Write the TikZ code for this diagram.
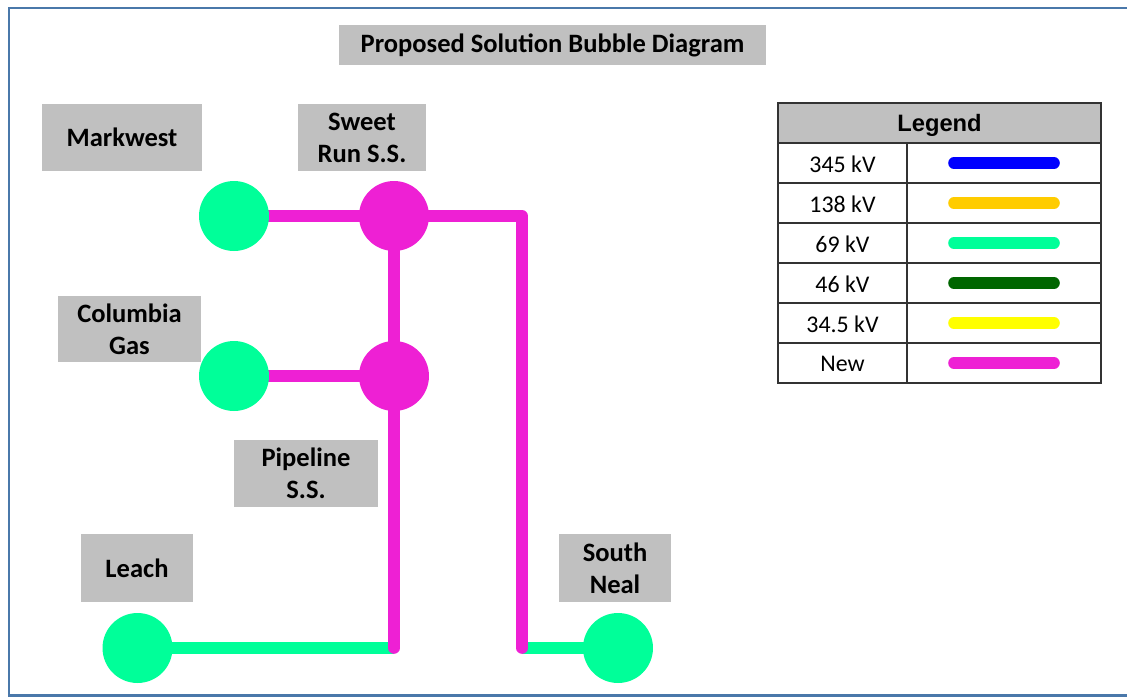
\documentclass[tikz,border=0pt]{standalone}
\usepackage{fontspec}
\setmainfont{Carlito}
\newfontfamily\arialfont{Liberation Sans}
\usepackage{tikz}
\definecolor{newC}{RGB}{238,32,212}
\definecolor{kvA}{RGB}{0,0,255}
\definecolor{kvB}{RGB}{255,204,0}
\definecolor{kvC}{RGB}{0,255,153}
\definecolor{kvD}{RGB}{0,102,0}
\definecolor{kvE}{RGB}{255,255,0}
\definecolor{frameC}{RGB}{74,120,170}
\definecolor{boxC}{RGB}{192,192,192}
\tikzset{
  lbl/.style    ={fill=boxC, inner sep=0pt, align=center, font=\fontsize{15.1}{18.3}\selectfont\bfseries},
  bus/.style    ={circle, fill=#1, minimum size=1.4cm, inner sep=0pt},
  lineS/.style  ={draw=#1, line width=6.6pt},
  keyS/.style   ={draw=#1, line width=6.6pt, line cap=round},
  cell/.style   ={draw=black!80, line width=0.7pt},
}
\begin{document}
\begin{tikzpicture}[x=0.02cm, y=-0.02cm]
  \useasboundingbox (0,0) rectangle (1127,698);
  \draw[frameC, line width=1.6pt] (1140,8) -- (9,8) -- (9,695.5) -- (1140,695.5);
  \node[lbl, minimum width=8.54cm, minimum height=0.8cm] (title) at (552.5,45) {Proposed Solution Bubble Diagram};
  \node[lbl, minimum width=3.2cm, minimum height=1.34cm] (markwestL) at (122,137.5) {Markwest};
  \node[lbl, minimum width=2.56cm, minimum height=1.34cm] (sweetrunL) at (362,137.5) {Sweet\\Run S.S.};
  \node[lbl, minimum width=2.86cm, minimum height=1.32cm] (columbiaL) at (129.5,329) {Columbia\\Gas};
  \node[lbl, minimum width=2.88cm, minimum height=1.34cm] (pipelineL) at (306,473.5) {Pipeline\\S.S.};
  \node[lbl, minimum width=2.24cm, minimum height=1.36cm] (leachL) at (137,568) {Leach};
  \node[lbl, minimum width=2.24cm, minimum height=1.36cm] (southnealL) at (615,568) {South\\Neal};
  \coordinate (markwest) at (234,216);
  \coordinate (sweetrun) at (394,216);
  \coordinate (columbia) at (234,376);
  \coordinate (pipeline) at (394,376);
  \coordinate (leach) at (137.5,648);
  \coordinate (southneal) at (618,648);
  \coordinate (tapA) at (394,648);
  \coordinate (bend) at (522,216);
  \coordinate (tapB) at (522,648);
  \draw[lineS=kvC] (leach) -- (tapA);
  \draw[lineS=kvC] (tapB) -- (southneal);
  \draw[lineS=newC] (markwest) -- (sweetrun);
  \draw[lineS=newC] (columbia) -- (pipeline);
  \draw[lineS=newC, line cap=round, line join=round] (sweetrun) -- (bend) -- (tapB);
  \draw[lineS=newC, line cap=round] (sweetrun) -- (pipeline) -- (tapA);
  \node[bus=kvC] (markwestB) at (markwest) {};
  \node[bus=newC] (sweetrunB) at (sweetrun) {};
  \node[bus=kvC] (columbiaB) at (columbia) {};
  \node[bus=newC] (pipelineB) at (pipeline) {};
  \node[bus=kvC] (leachB) at (leach) {};
  \node[bus=kvC] (southnealB) at (southneal) {};
  \fill[boxC] (778,103) rectangle (1101,143);
  \node[font=\arialfont\fontsize{13.5}{15}\selectfont\bfseries] (legend) at (939.5,125) {Legend};
  \foreach \txt/\col [count=\i] in {345 kV/kvA, 138 kV/kvB, 69 kV/kvC, 46 kV/kvD, 34.5 kV/kvE, New/newC}{
    \node[font=\fontsize{13.6}{15}\selectfont] (key\i) at (842.5,124+40*\i) {\txt};
    \draw[keyS=\col] (954,123+40*\i) -- (1054,123+40*\i);
    \draw[cell] (778,143+40*\i) -- (1101,143+40*\i);
  }
  \draw[cell] (778,143) -- (1101,143);
  \draw[cell] (907,143) -- (907,383);
  \draw[cell] (778,103) rectangle (1101,383);
\end{tikzpicture}
\end{document}
